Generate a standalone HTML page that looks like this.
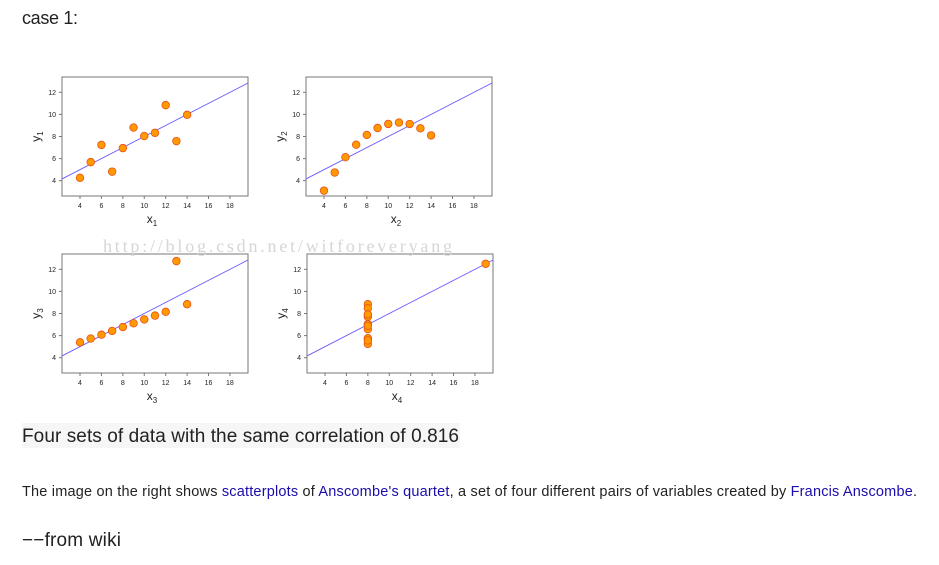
<!DOCTYPE html>
<html><head><meta charset="utf-8"><style>
html,body{margin:0;padding:0;background:#fff;width:939px;height:565px;overflow:hidden}
svg{display:block;font-family:"Liberation Sans",sans-serif}
</style></head><body>
<svg id="page" width="939" height="565" xmlns="http://www.w3.org/2000/svg">
<text x="22" y="24" font-size="18" fill="#222" textLength="56">case 1:</text>
<g id="plots"></g>
<text x="103" y="252" font-family="Liberation Serif,serif" font-size="18" fill="#d6d6d6" textLength="349">http://blog.csdn.net/witforeveryang</text>
<rect x="22" y="423" width="438" height="25" fill="#f6f6f6"/>
<text x="22" y="442" font-size="19" fill="#222" textLength="437">Four sets of data with the same correlation of 0.816</text>
<text x="22" y="496" font-size="14.5" fill="#222" textLength="895">The image on the right shows <tspan fill="#1a0dab">scatterplots</tspan> of <tspan fill="#1a0dab">Anscombe's quartet</tspan>, a set of four different pairs of variables created by <tspan fill="#1a0dab">Francis Anscombe</tspan>.</text>
<text x="22" y="546" font-size="19" fill="#222" textLength="99">−−from wiki</text>
</svg>
<script>
const xs123 = [10, 8, 13, 9, 11, 14, 6, 4, 12, 7, 5];
const y1 = [8.04, 6.95, 7.58, 8.81, 8.33, 9.96, 7.24, 4.26, 10.84, 4.82, 5.68];
const y2 = [9.14, 8.14, 8.74, 8.77, 9.26, 8.10, 6.13, 3.10, 9.13, 7.26, 4.74];
const y3 = [7.46, 6.77, 12.74, 7.11, 7.81, 8.84, 6.08, 5.39, 8.15, 6.42, 5.73];
const x4 = [8, 8, 8, 8, 8, 8, 8, 19, 8, 8, 8];
const y4 = [6.58, 5.76, 7.71, 8.84, 8.47, 7.04, 5.25, 12.50, 5.56, 7.91, 6.89];
const xTicks = [4, 6, 8, 10, 12, 14, 16, 18];
const yTicks = [4, 6, 8, 10, 12];
const fitIntercept = 3.0;
const fitSlope = 0.5;

const NS = "http://www.w3.org/2000/svg";
const root = document.getElementById('plots');
function mk(tag, attrs, parent){const e=document.createElementNS(NS,tag);for(const k in attrs)e.setAttribute(k,attrs[k]);parent.appendChild(e);return e;}

const panels = [
  {xv:xs123, yv:y1, L:62, T:77, n:'1'},
  {xv:xs123, yv:y2, L:306, T:77, n:'2'},
  {xv:xs123, yv:y3, L:62, T:254, n:'3'},
  {xv:x4, yv:y4, L:307, T:254, n:'4'}
];
panels.forEach(p=>{
  const W=186, H=119;
  const sx = v => p.L + 18 + (v-4)*10.71;
  const sy = v => p.T + 15.3 + (12-v)*11.05;
  const g = mk('g',{},root);
  
  
  const fr = mk('rect',{x:p.L,y:p.T,width:W,height:H,fill:'none',stroke:'#777','stroke-width':1},g);
  
  
  xTicks.forEach(t=>{
    const x=sx(t);
    mk('line',{x1:x,x2:x,y1:p.T+H,y2:p.T+H+3,stroke:'#777'},g);
    const tx=mk('text',{x:x,y:p.T+H+12,'font-size':7,'text-anchor':'middle',fill:'#222'},g);
    tx.textContent=t;
    
    
  });
  yTicks.forEach(t=>{
    const y=sy(t);
    mk('line',{x1:p.L-3,x2:p.L,y1:y,y2:y,stroke:'#777'},g);
    const tx=mk('text',{x:p.L-6,y:y+2.5,'font-size':7,'text-anchor':'end',fill:'#222'},g);
    tx.textContent=t;
    
    
  });
  const xl=mk('text',{x:p.L+W/2-3,y:p.T+H+27,'font-size':12,'text-anchor':'middle',fill:'#222'},g);
  xl.innerHTML='x<tspan font-size="8" dy="3">'+p.n+'</tspan>';
  
  
  const yl=mk('text',{x:0,y:0,'font-size':12,'text-anchor':'middle',fill:'#222',transform:`translate(${p.L-22},${p.T+H/2}) rotate(-90)`},g);
  yl.innerHTML='y<tspan font-size="8" dy="3">'+p.n+'</tspan>';
  
  
  const cid='clip'+p.n;
  const cp=mk('clipPath',{id:cid},g); mk('rect',{x:p.L,y:p.T,width:W,height:H},cp);
  const xa=(p.L-(p.L+18))/10.71+4, xb=(p.L+W-(p.L+18))/10.71+4;
  const ln=mk('line',{x1:sx(xa),y1:sy(fitIntercept+fitSlope*xa),x2:sx(xb),y2:sy(fitIntercept+fitSlope*xb),stroke:'#6a5cff','stroke-width':0.9,'clip-path':`url(#${cid})`},g);
  
  
  p.xv.forEach((xv,i)=>{
    const c=mk('circle',{cx:sx(xv),cy:sy(p.yv[i]),r:3.8,fill:'#ff9900',stroke:'#e8501a','stroke-width':0.8},g);
    
    
  });
});
</script>
</body></html>
